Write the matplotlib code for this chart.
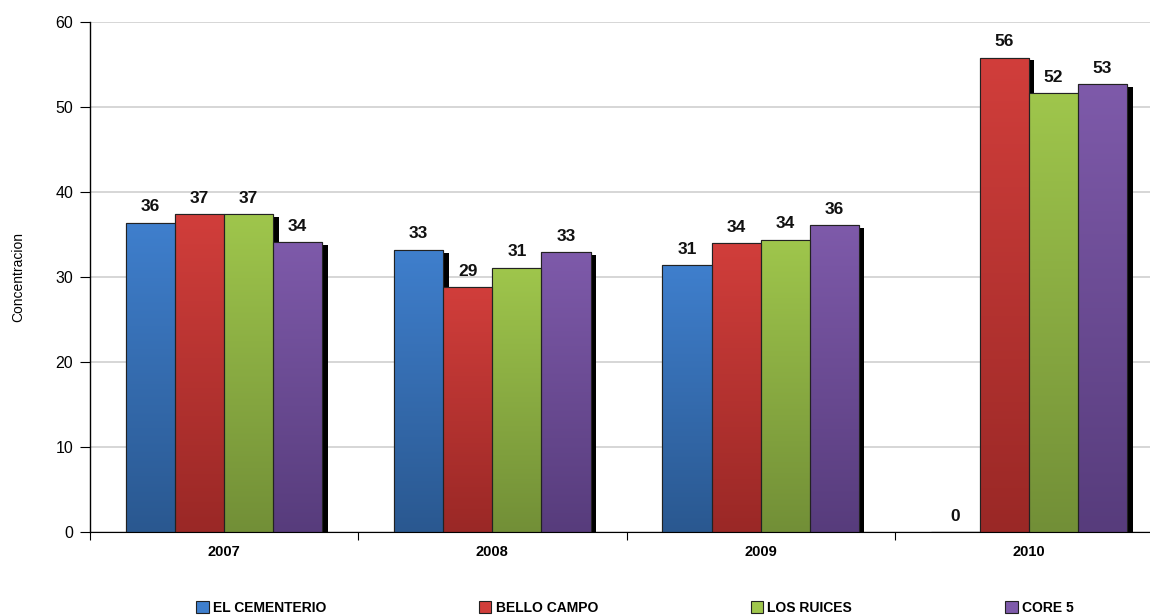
import numpy as np
import matplotlib
matplotlib.use('Agg')
import matplotlib.pyplot as plt
import matplotlib.patheffects as pe
from matplotlib.colors import LinearSegmentedColormap
from matplotlib.patches import Patch

plt.rcParams['font.family'] = ['Liberation Sans', 'DejaVu Sans']

years = ['2007', '2008', '2009', '2010']
series = ['EL CEMENTERIO', 'BELLO CAMPO', 'LOS RUICES', 'CORE 5']
cementerio = [36.4, 33.2, 31.4, 0]
bello_campo = [37.4, 28.8, 34.0, 55.8]
los_ruices = [37.4, 31.1, 34.4, 51.6]
core5 = [34.1, 32.9, 36.1, 52.7]
values = [cementerio, bello_campo, los_ruices, core5]

# light (top) / dark (bottom) for each series
tops = ['#3F7FCD', '#D13E3B', '#9FC64C', '#7E5AAA']
bottoms = ['#2A5890', '#9A2826', '#728F37', '#573C7C']

fig = plt.figure(figsize=(11.5, 6.16), dpi=100)
ax = fig.add_axes([90 / 1150, 84 / 616, 1073 / 1150, 510 / 616])

x = np.arange(len(years))
w = 0.183
offs = (np.arange(4) - 1.5) * w

for i in range(4):
    cmap = LinearSegmentedColormap.from_list('g%d' % i, [bottoms[i], tops[i]])
    bars = ax.bar(x + offs[i], values[i], w, color=tops[i], edgecolor='#222222',
                  linewidth=0.8, zorder=2,
                  path_effects=[pe.SimplePatchShadow(offset=(4, -2), shadow_rgbFace='k', alpha=1),
                                pe.Normal()])
    for b, v in zip(bars, values[i]):
        if v > 0:
            grad = np.linspace(0, 1, 256).reshape(-1, 1)
            im = ax.imshow(grad, extent=[b.get_x(), b.get_x() + w, 0, v], origin='lower',
                           aspect='auto', cmap=cmap, zorder=2.1)
            im.set_clip_path(b)
        ax.annotate('%d' % round(v), (b.get_x() + w / 2, v), xytext=(0, 6),
                    textcoords='offset points', ha='center', va='bottom',
                    fontsize=12.5, fontweight='bold', color='#111111', zorder=4)
    ax.bar(x + offs[i], values[i], w, fill=False, edgecolor='#222222', linewidth=0.8, zorder=2.2)

ax.set_xlim(-0.5, 3.5)
ax.set_ylim(0, 60)
ax.set_yticks(range(0, 61, 10))
ax.yaxis.grid(True, color='#d0d0d0', linewidth=1.2, zorder=0)
ax.set_axisbelow(True)
ax.set_xticks(x)
ax.set_xticklabels(years, fontsize=10.5, fontweight='bold')
ax.set_xticks(np.arange(-0.5, 3.6, 1), minor=True)
ax.tick_params(axis='x', which='major', length=0, pad=9)
ax.tick_params(axis='x', which='minor', length=6, direction='out', width=0.8)
ax.tick_params(axis='y', length=7, direction='out', width=0.8, labelsize=11.5, pad=5)
for s in ['top', 'right']:
    ax.spines[s].set_visible(False)
ax.spines['left'].set_linewidth(1)
ax.spines['bottom'].set_linewidth(0.8)
ax.set_ylabel('Concentracion', fontsize=10, labelpad=22)

handles = [Patch(facecolor=tops[i], edgecolor='#222222', linewidth=0.8) for i in range(4)]
fig.legend(handles, series, loc='center', bbox_to_anchor=(0.552, 0.013), ncol=4,
           frameon=False, prop={'weight': 'bold', 'size': 10}, columnspacing=11.0,
           handlelength=0.9, handleheight=0.9, handletextpad=0.3)

fig.savefig('out.png', dpi=100)
